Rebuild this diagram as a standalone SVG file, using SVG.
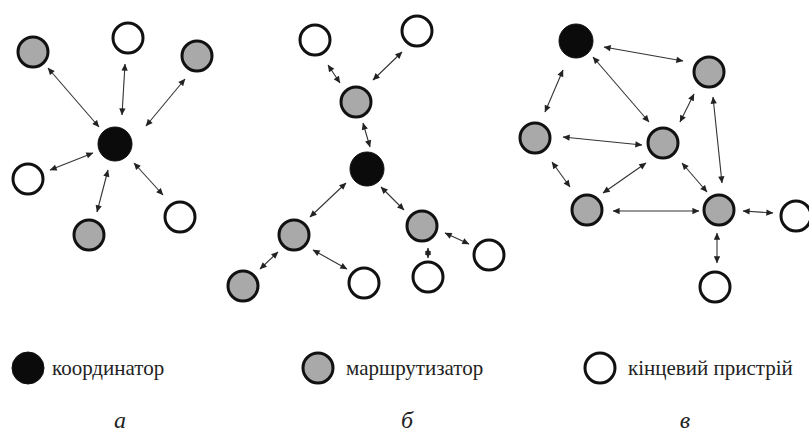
<svg xmlns="http://www.w3.org/2000/svg" width="809" height="432" viewBox="0 0 809 432">
<defs>
<marker id="ah" viewBox="0 0 10 10" refX="9.5" refY="5" markerWidth="8" markerHeight="7" markerUnits="userSpaceOnUse" orient="auto-start-reverse">
<path d="M0,0.5 L10,5 L0,9.5 z" fill="#222"/>
</marker>
<style>
.n{stroke:#111;stroke-width:3}
.c{fill:#0b0b0b;stroke:#111;stroke-width:1}
.r{fill:#a9a9a9}
.e{fill:#fff}
.l{stroke:#333;stroke-width:1.1;fill:none;marker-start:url(#ah);marker-end:url(#ah)}
.t{font-family:"Liberation Serif","DejaVu Serif",serif;font-size:21px;fill:#222}
.p{font-family:"Liberation Serif","DejaVu Serif",serif;font-size:24px;font-style:italic;fill:#222}
</style>
</defs>
<rect width="809" height="432" fill="#fff"/>

<!-- Panel a -->
<g id="a-c"><circle class="c" cx="115" cy="144" r="17"/></g>
<g id="a-r1"><circle class="n r" cx="33" cy="52" r="15"/></g>
<g id="a-e1"><circle class="n e" cx="128" cy="38" r="15"/></g>
<g id="a-r2"><circle class="n r" cx="197" cy="56" r="15"/></g>
<g id="a-e2"><circle class="n e" cx="28" cy="179" r="15"/></g>
<g id="a-r3"><circle class="n r" cx="89" cy="235" r="15"/></g>
<g id="a-e3"><circle class="n e" cx="180" cy="217" r="15"/></g>

<!-- Panel b -->
<g id="b-c"><circle class="c" cx="367" cy="169" r="17"/></g>
<g id="b-e1"><circle class="n e" cx="315" cy="40" r="15"/></g>
<g id="b-e2"><circle class="n e" cx="417" cy="31" r="15"/></g>
<g id="b-r1"><circle class="n r" cx="356" cy="102" r="15"/></g>
<g id="b-r2"><circle class="n r" cx="294" cy="235" r="15"/></g>
<g id="b-r3"><circle class="n r" cx="422" cy="226" r="15"/></g>
<g id="b-r4"><circle class="n r" cx="243" cy="286" r="15"/></g>
<g id="b-e3"><circle class="n e" cx="364" cy="283" r="15"/></g>
<g id="b-e4"><circle class="n e" cx="428" cy="277" r="15"/></g>
<g id="b-e5"><circle class="n e" cx="489" cy="255" r="15"/></g>

<!-- Panel c -->
<g id="c-c"><circle class="c" cx="576" cy="41" r="17"/></g>
<g id="c-r1"><circle class="n r" cx="709" cy="72" r="15"/></g>
<g id="c-r2"><circle class="n r" cx="535" cy="138" r="15"/></g>
<g id="c-r3"><circle class="n r" cx="663" cy="143" r="15"/></g>
<g id="c-r4"><circle class="n r" cx="587" cy="210" r="15"/></g>
<g id="c-r5"><circle class="n r" cx="719" cy="210" r="15"/></g>
<g id="c-e1"><circle class="n e" cx="796" cy="216" r="15"/></g>
<g id="c-e2"><circle class="n e" cx="715" cy="287" r="15"/></g>

<g id="connectors">
<line class="l" x1="48" y1="68" x2="99" y2="127"/>
<line class="l" x1="125" y1="64" x2="122" y2="115"/>
<line class="l" x1="185" y1="79" x2="146" y2="126"/>
<line class="l" x1="50" y1="170" x2="93" y2="153"/>
<line class="l" x1="108" y1="170" x2="97" y2="212"/>
<line class="l" x1="134" y1="163" x2="163" y2="195"/>

<line class="l" x1="328" y1="65" x2="340" y2="83"/>
<line class="l" x1="402" y1="52" x2="373" y2="80"/>
<line class="l" x1="363" y1="123" x2="370" y2="147"/>
<line class="l" x1="346" y1="183" x2="310" y2="217"/>
<line class="l" x1="381" y1="187" x2="404" y2="210"/>
<line class="l" x1="278" y1="252" x2="260" y2="269"/>
<line class="l" x1="313" y1="250" x2="347" y2="269"/>
<line class="l" x1="428" y1="248" x2="428" y2="258"/>
<line class="l" x1="445" y1="233" x2="469" y2="244"/>

<line class="l" x1="604" y1="47" x2="683" y2="61"/>
<line class="l" x1="563" y1="70" x2="545" y2="112"/>
<line class="l" x1="593" y1="57" x2="649" y2="122"/>
<line class="l" x1="563" y1="137" x2="642" y2="145"/>
<line class="l" x1="694" y1="94" x2="680" y2="122"/>
<line class="l" x1="713" y1="97" x2="722" y2="183"/>
<line class="l" x1="552" y1="162" x2="570" y2="187"/>
<line class="l" x1="646" y1="163" x2="603" y2="193"/>
<line class="l" x1="682" y1="163" x2="707" y2="192"/>
<line class="l" x1="613" y1="211" x2="699" y2="211"/>
<line class="l" x1="743" y1="211" x2="773" y2="213"/>
<line class="l" x1="717" y1="233" x2="717" y2="263"/>
</g>

<!-- Legend -->
<g id="legend-coord"><circle class="c" cx="28" cy="368" r="16"/><text class="t" x="52" y="375">координатор</text></g>
<g id="legend-router"><circle class="n r" cx="318" cy="368" r="15"/><text class="t" x="346" y="375">маршрутизатор</text></g>
<g id="legend-end"><circle class="n e" cx="600" cy="368" r="15"/><text class="t" x="628" y="375">кінцевий пристрій</text></g>

<text class="p" x="120" y="428" text-anchor="middle">а</text>
<text class="p" x="407" y="428" text-anchor="middle">б</text>
<text class="p" x="685" y="428" text-anchor="middle">в</text>
</svg>
